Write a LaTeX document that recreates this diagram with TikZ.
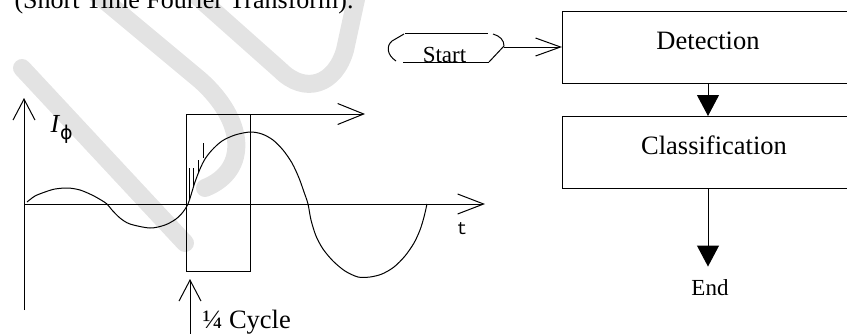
\documentclass[tikz,border=0pt]{standalone}
\usepackage{fontspec}
\setmainfont{Liberation Serif}
\newfontfamily\monofont{Liberation Mono}
\newfontfamily\greekfont{DejaVu Sans}
\usetikzlibrary{arrows.meta}

\begin{document}
\begin{tikzpicture}[x=1pt,y=-1pt,line width=1pt,
  vee/.style 2 args={-{Straight Barb[length=#1,width=#2]}},
  solidhead/.style={-{Triangle[length=21pt,width=22pt]}},
  box/.style={draw,line width=1.1pt,anchor=north west,inner sep=0pt},
  lbl/.style={inner sep=0pt,font=\fontsize{26.5}{30}\selectfont},
  wm/.style={draw=black!11,line width=18pt,line cap=round,line join=round}]
\useasboundingbox (0,0) rectangle (847,333);

% faint background strokes
\draw[wm] (22,68) -- (185,243);
\draw[wm] (92,-10) -- (200,80) .. controls (245,120) and (250,170) .. (205,188);
\draw[wm] (190,-10) -- (280,70) .. controls (305,95) and (335,85) .. (345,50) -- (358,-10);

% caption line at the top
\node[lbl,anchor=base west,font=\fontsize{26}{30}\selectfont] (title) at (14,8) {(Short Time Fourier Transform).};

% axes
\coordinate (ybot) at (24,310);
\coordinate (ytop) at (24,98);
\coordinate (xleft) at (24,204);
\coordinate (xright) at (485,204);
\draw[vee={21pt}{22pt}] (ybot) -- (ytop);
\draw[vee={26pt}{20pt}] (xleft) -- (xright);
\node[inner sep=0pt,anchor=base west,font=\fontsize{26}{28}\selectfont] (ilab) at (50,132)
  {\textit{I}\raisebox{-7pt}{\greekfont\fontsize{19}{19}\selectfont ϕ}};
\node[inner sep=0pt,anchor=base,font=\monofont\fontsize{18}{18}\selectfont] (tlab) at (462,234) {t};

% signal
\draw plot[smooth,tension=0.5] coordinates {
  (27,202) (35,196) (45,192) (55,189) (68,188) (80,190) (92,195) (101,200)
  (107,204) (112,210) (120,218) (130,224) (150,228) (165,225) (176,219)
  (183,212) (188,204) (191,195) (195,182) (200,169) (205,159) (212,150)
  (222,141) (235,135) (250,132) (262,134) (273,140) (283,150) (292,163)
  (299,178) (304,192) (308,204) (311,220) (316,236) (323,249) (333,261)
  (345,271) (358,277) (370,277) (382,274) (394,267) (405,256) (414,243)
  (420,230) (424,217) (427,204)};
% noise ticks on the rising edge
\draw (189,168) -- (189,199);
\draw (193,168) -- (193,186);
\draw (198,160) -- (198,172);
\draw (203,143) -- (203,158);

% quarter-cycle window
\node[box,line width=1pt,minimum width=64pt,minimum height=157pt] (win) at (186,114) {};
\coordinate (wtip) at (365,114);
\draw[vee={26pt}{21pt}] (win.north east) -- (wtip);
\coordinate (ubot) at (190,340);
\coordinate (utip) at (190,279);
\draw[vee={21pt}{22pt}] (ubot) -- (utip);
\node[lbl,anchor=base west] (cyc) at (202,328) {¼ Cycle};

% flow chart
\draw (405,33) -- (488,33);
\draw (403,62) -- (489,62);
\draw (404,34) -- (392,41) .. controls (386,46) and (387,55) .. (396,61);
\draw (493,34) .. controls (500,36) and (504,40) .. (504,46) -- (489,62);
\coordinate (startR) at (504,47);
\node[inner sep=0pt,anchor=base,font=\fontsize{23}{26}\selectfont] (start) at (444.5,62) {Start};

\node[box,minimum width=293pt,minimum height=72pt] (det) at (562,11) {};
\node[lbl,anchor=base] (detl) at (708,49) {Detection};
\node[box,minimum width=304pt,minimum height=72pt] (cls) at (562,116) {};
\node[lbl,anchor=base] (clsl) at (714,154) {Classification};
\node[inner sep=0pt,anchor=base,font=\fontsize{23}{26}\selectfont] (endl) at (710,295) {End};
\coordinate (flowx) at (708,0);

\draw[vee={25pt}{18pt}] (startR) -- (startR -| det.west);
\draw[solidhead] (det.south -| flowx) -- (cls.north -| flowx);
\draw[solidhead,shorten >=12pt] (cls.south -| flowx) -- (endl.north -| flowx);
\end{tikzpicture}
\end{document}
